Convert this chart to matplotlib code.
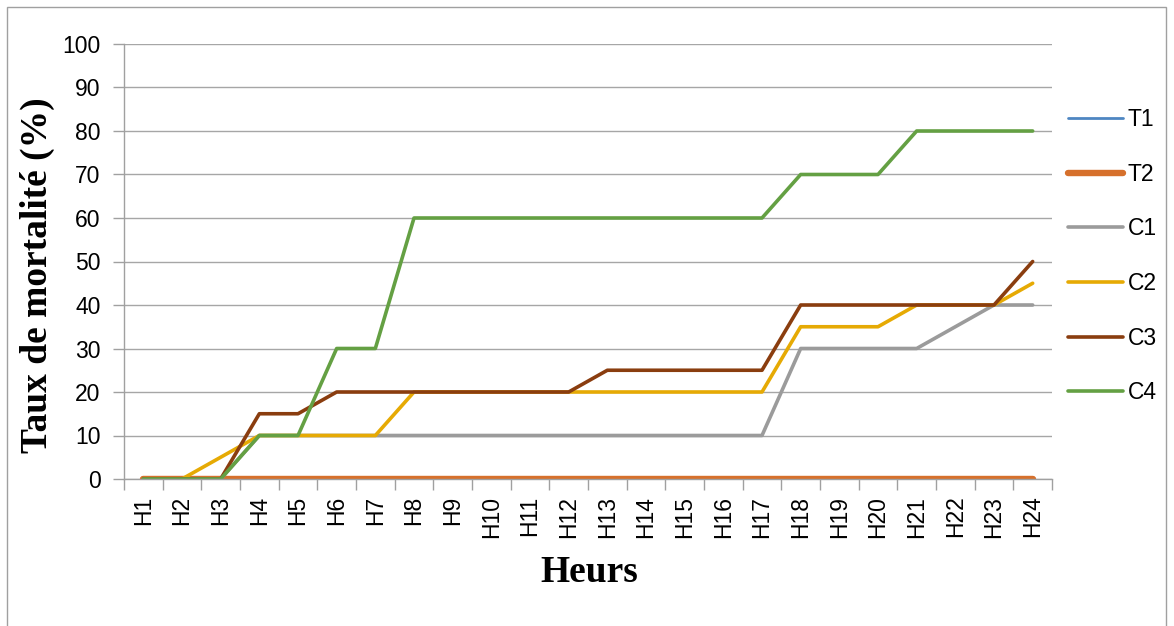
import matplotlib.pyplot as plt
import matplotlib.patches as mpatches
import numpy as np

heures = ['H%d' % i for i in range(1, 25)]
T1 = [0] * 24
T2 = [0] * 24
C1 = [0, 0, 0, 10, 10, 10, 10, 10, 10, 10, 10, 10, 10, 10, 10, 10, 10, 30, 30, 30, 30, 35, 40, 40]
C2 = [0, 0, 5, 10, 10, 10, 10, 20, 20, 20, 20, 20, 20, 20, 20, 20, 20, 35, 35, 35, 40, 40, 40, 45]
C3 = [0, 0, 0, 15, 15, 20, 20, 20, 20, 20, 20, 20, 25, 25, 25, 25, 25, 40, 40, 40, 40, 40, 40, 50]
C4 = [0, 0, 0, 10, 10, 30, 30, 60, 60, 60, 60, 60, 60, 60, 60, 60, 60, 70, 70, 70, 80, 80, 80, 80]

series = [('T1', T1, '#4E86C2', 2.0),
          ('T2', T2, '#D6702C', 4.6),
          ('C1', C1, '#9B9B9B', 2.6),
          ('C2', C2, '#E6AA04', 2.6),
          ('C3', C3, '#8A3D0F', 2.6),
          ('C4', C4, '#64A043', 2.6)]

W, H = 1174, 626
fig = plt.figure(figsize=(W / 100, H / 100), dpi=100)
ax = fig.add_axes([124 / W, 1 - 479 / H, (1052 - 124) / W, (479 - 44) / H])

x = np.arange(1, 25)
for name, vals, col, lw in series:
    ax.plot(x, vals, color=col, lw=lw, label=name, solid_capstyle='round', solid_joinstyle='round')

ax.set_xlim(0.5, 24.5)
ax.set_ylim(0, 100)
ax.set_yticks(range(0, 101, 10))
ax.set_xticks(x)
ax.set_xticklabels(heures, rotation=90, fontsize=16.5, family='Liberation Sans')
ax.set_xticks(np.arange(0.5, 25, 1), minor=True)
ax.tick_params(axis='x', which='major', length=0, pad=12)
ax.tick_params(axis='x', which='minor', length=8, width=1, color='#A0A0A0', direction='out')
ax.tick_params(axis='y', length=8, width=1, color='#A0A0A0', pad=9, labelsize=16.5)
for lab in ax.get_yticklabels():
    lab.set_family('Liberation Sans')

ax.grid(axis='y', color='#A6A6A6', lw=1)
ax.set_axisbelow(True)
for s in ['top', 'right']:
    ax.spines[s].set_visible(False)
for s in ['left', 'bottom']:
    ax.spines[s].set_color('#A0A0A0')
    ax.spines[s].set_linewidth(1)

fig.text(37 / W, 1 - 275 / H, 'Taux de mortalité (%)', rotation=90, ha='center', va='center',
         fontsize=27, fontweight='bold', family='Liberation Serif')
fig.text(589 / W, 1 - 572 / H, 'Heurs', ha='center', va='center',
         fontsize=27, fontweight='bold', family='Liberation Serif')

leg = ax.legend(loc='upper left', bbox_to_anchor=(1059 / W, 1 - 99 / H), bbox_transform=fig.transFigure,
                frameon=False, prop={'family': 'Liberation Sans', 'size': 16.5},
                handlelength=2.4, handletextpad=0.2, labelspacing=1.38, borderaxespad=0)

fig.patches.append(mpatches.Rectangle((7 / W, -0.1), (1166 - 7) / W, 1.1 - 7 / H, transform=fig.transFigure,
                                      fill=False, edgecolor='#A0A0A0', lw=1))

fig.savefig('out.png', dpi=100)
